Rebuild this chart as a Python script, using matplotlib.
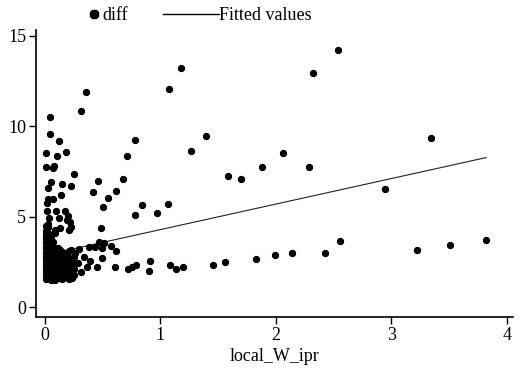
import matplotlib
matplotlib.use("Agg")
import matplotlib.pyplot as plt
from matplotlib.lines import Line2D

plt.rcParams['font.family'] = ['Liberation Serif', 'DejaVu Serif']

# ---- data: scattered points (local_W_ipr, diff) ----
sparse_x = [2.54, 1.175, 2.32, 1.074, 0.352, 0.315, 0.043, 0.043, 0.118, 0.01,
            0.107, 0.185, 0.01, 0.07, 0.08, 0.254, 0.052, 0.15, 0.228, 0.03,
            0.136, 0.03, 0.066, 0.017, 0.017, 0.095, 0.176, 0.037, 0.118, 0.2,
            0.214, 0.225, 0.208, 0.023, 0.087,
            0.78, 0.713, 0.679, 0.46, 0.42, 0.615, 0.55, 0.505, 0.84, 0.777,
            0.973, 1.063, 1.262, 1.392, 1.585, 1.695, 1.88, 2.065, 2.29, 3.344,
            2.95, 0.485, 0.465, 2.553, 3.823, 3.506, 3.223, 2.43, 2.137, 1.99,
            1.83, 1.562, 1.458, 1.193, 1.132, 1.083, 0.907, 0.90, 0.785, 0.754,
            0.72, 0.606, 0.615, 0.569, 0.497, 0.514, 0.494, 0.43, 0.384, 0.297,
            0.39, 0.453, 0.367, 0.315, 0.228, 0.217, 0.29, 0.338, 0.263, 0.228]
sparse_y = [14.22, 13.24, 12.93, 12.04, 11.9, 10.83, 10.52, 9.58, 9.21, 8.53,
            8.38, 8.6, 7.73, 7.68, 7.83, 7.38, 6.94, 6.83, 6.72, 6.61,
            6.21, 5.99, 5.99, 5.78, 5.30, 5.30, 5.30, 4.92, 4.92, 5.05,
            4.70, 4.46, 4.27, 4.46, 4.27,
            9.24, 8.38, 7.09, 7.00, 6.39, 6.45, 6.04, 5.52, 5.64, 5.10,
            5.23, 5.71, 8.64, 9.45, 7.26, 7.11, 7.73, 8.51, 7.73, 9.37,
            6.54, 4.36, 3.59, 3.66, 3.74, 3.43, 3.17, 2.98, 2.98, 2.91,
            2.69, 2.52, 2.36, 2.21, 2.10, 2.32, 2.56, 2.01, 2.32, 2.25,
            2.14, 2.21, 3.11, 3.39, 3.26, 3.57, 2.71, 3.35, 3.35, 3.20,
            2.56, 2.25, 2.25, 1.97, 1.69, 2.01, 2.43, 2.80, 2.98, 3.17]

# dense cluster near zero
cluster_x = ([0.01] * 15 + [0.03] * 14 + [0.05] * 12 + [0.07] * 10 + [0.09] * 10 +
             [0.11] * 8 + [0.13] * 8 + [0.15] * 7 + [0.17] * 6 + [0.19] * 6 +
             [0.21] * 6 + [0.23] * 4 + [0.25] * 4)
cluster_y = [1.55, 1.8, 2.0, 2.2, 2.4, 2.6, 2.8, 3.0, 3.2, 3.4, 3.6, 3.8, 4.0, 4.2, 4.5,
             1.6, 1.9, 2.1, 2.3, 2.5, 2.7, 2.9, 3.1, 3.3, 3.5, 3.7, 3.9, 4.1, 4.6,
             1.5, 1.7, 2.0, 2.2, 2.4, 2.6, 2.8, 3.0, 3.2, 3.45, 3.75, 4.0,
             1.65, 1.85, 2.05, 2.3, 2.5, 2.7, 2.95, 3.15, 3.35, 3.6,
             1.5, 1.75, 1.95, 2.15, 2.4, 2.6, 2.85, 3.05, 3.3, 4.1,
             1.6, 1.85, 2.1, 2.3, 2.55, 2.75, 3.0, 3.25,
             1.7, 1.95, 2.2, 2.45, 2.65, 2.9, 3.15, 4.4,
             1.55, 1.8, 2.05, 2.35, 2.6, 2.8, 3.05,
             1.65, 1.9, 2.2, 2.5, 2.75, 3.0,
             1.75, 2.0, 2.3, 2.6, 2.9, 4.8,
             1.55, 1.85, 2.15, 2.45, 2.7, 3.1,
             1.6, 1.95, 2.25, 2.55,
             1.8, 2.1, 2.4, 2.75]

# fitted line endpoints
fit_x = [0.0, 3.823]
fit_y = [2.88, 8.27]

x_ticks = [0, 1, 2, 3, 4]
y_ticks = [0, 5, 10, 15]

fig = plt.figure(figsize=(5.27, 3.69), dpi=100)
ax = fig.add_axes([0.0683, 0.1409, 0.9051, 0.7778])

ax.scatter(cluster_x + sparse_x, cluster_y + sparse_y, s=31, marker='8',
           color='black', linewidths=0, zorder=3)
ax.plot(fit_x, fit_y, color='#222222', lw=0.8, zorder=2)

ax.set_xlim(-0.078, 4.055)
ax.set_ylim(-0.54, 15.32)
ax.set_xticks(x_ticks)
ax.set_yticks(y_ticks)
ax.tick_params(direction='out', length=5, width=1, labelsize=13, pad=2)
for s in ['top', 'right']:
    ax.spines[s].set_visible(False)
for s in ['left', 'bottom']:
    ax.spines[s].set_linewidth(1.2)
ax.set_xlabel('local_W_ipr', fontsize=13, labelpad=3)

# legend drawn in figure pixels
W, H = 527, 369
fig.add_artist(Line2D([94 / W], [1 - 14 / H], marker='8', markersize=6,
                      color='black', lw=0, transform=fig.transFigure))
fig.text(102 / W, 1 - 15 / H, 'diff', fontsize=13, va='center', ha='left')
fig.add_artist(Line2D([163 / W, 219 / W], [1 - 14 / H, 1 - 14 / H],
                      color='black', lw=1.0, transform=fig.transFigure))
fig.text(219 / W, 1 - 15 / H, 'Fitted values', fontsize=13, va='center', ha='left')

fig.savefig('out.png', dpi=100)
